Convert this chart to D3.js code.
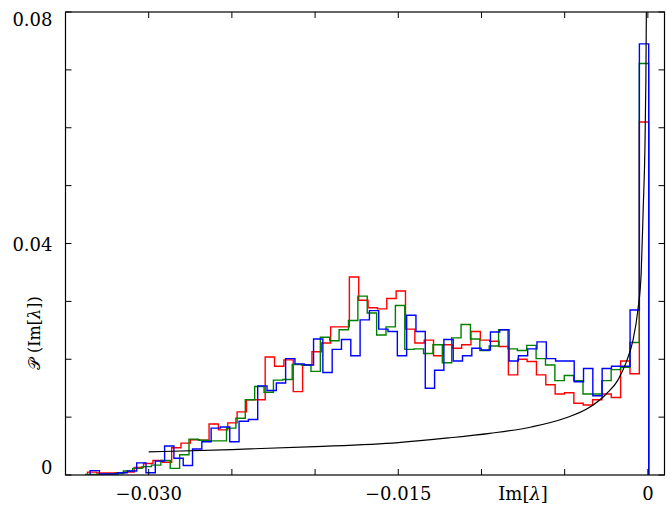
<!DOCTYPE html>
<html>
<head>
<meta charset="utf-8">
<script src="https://cdn.jsdelivr.net/npm/d3@7"></script>
<style>
  html, body { margin: 0; padding: 0; background: #fff; }
</style>
</head>
<body>
<div id="chart"></div>
<script>
// histogram ranges (data min / max of each run), 60 bins each
var nBins = 60;
var redRange = [-0.03368, 0.00005];
var greenRange = [-0.03378, 0.00005];
var blueRange = [-0.03352, 0.00005];

// probability per bin
var redP = [0.00050, 0.00035, 0.00035, 0.00040, 0.00050, 0.00130, 0.00200, 0.00250, 0.00220, 0.00470,
  0.00550, 0.00610, 0.00600, 0.00880, 0.00780, 0.00900, 0.01090, 0.01300, 0.01300, 0.02040,
  0.01880, 0.01990, 0.01440, 0.01900, 0.02130, 0.02280, 0.02560, 0.02560, 0.03420, 0.03020,
  0.02890, 0.02870, 0.03050, 0.03180, 0.02520, 0.02280, 0.02330, 0.02060, 0.02250, 0.02190,
  0.02250, 0.02480, 0.02330, 0.02310, 0.02220, 0.01730, 0.02000, 0.01960, 0.01730, 0.01560,
  0.01400, 0.01420, 0.01240, 0.01210, 0.01300, 0.01400, 0.01340, 0.01970, 0.01750, 0.06100];

var greenP = [0.00010, 0.00010, 0.00015, 0.00025, 0.00070, 0.00115, 0.00145, 0.00170, 0.00250, 0.00115,
  0.00350, 0.00620, 0.00600, 0.00590, 0.00590, 0.00810, 0.00980, 0.01300, 0.01530, 0.01430,
  0.01640, 0.01650, 0.01910, 0.01900, 0.01790, 0.02380, 0.02320, 0.02510, 0.02670, 0.03090,
  0.02800, 0.02420, 0.02560, 0.02930, 0.02170, 0.02180, 0.02100, 0.02250, 0.01940, 0.02370,
  0.02600, 0.02350, 0.02150, 0.02230, 0.02510, 0.02180, 0.02150, 0.02240, 0.02010, 0.01900,
  0.01630, 0.01720, 0.01630, 0.01400, 0.01400, 0.01630, 0.01820, 0.01860, 0.02290, 0.07110];

var blueP = [0.00075, 0.00017, 0.00017, 0.00040, 0.00070, 0.00210, 0.00040, 0.00240, 0.00500, 0.00290,
  0.00165, 0.00450, 0.00575, 0.00810, 0.00830, 0.00575, 0.00930, 0.00960, 0.01540, 0.01460,
  0.01590, 0.02010, 0.01920, 0.01900, 0.02350, 0.01770, 0.02170, 0.02340, 0.02060, 0.02680,
  0.02840, 0.02520, 0.02480, 0.02060, 0.02760, 0.02480, 0.01500, 0.01810, 0.02340, 0.01970,
  0.02060, 0.02190, 0.02160, 0.02470, 0.02510, 0.01970, 0.02060, 0.02180, 0.02300, 0.02010,
  0.01970, 0.01970, 0.01610, 0.01840, 0.01370, 0.01840, 0.01880, 0.01880, 0.02850, 0.07450];

// theory curve, points
var curveX = [-0.0300, -0.0250, -0.0200, -0.0150, -0.0120, -0.0095, -0.0070, -0.0050, -0.0035,
  -0.0025, -0.0018, -0.0013, -0.0009, -0.0006, -0.0004, -0.00028, -0.00018, -0.00012, -0.00008];
var curveY = [0.0040, 0.0044, 0.0049, 0.0056, 0.0064, 0.0072, 0.0083, 0.0098, 0.0117,
  0.0140, 0.0164, 0.0195, 0.0232, 0.0285, 0.0350, 0.0460, 0.0560, 0.0680, 0.0840];

var xTicks = [-0.030, -0.025, -0.020, -0.015, -0.010, -0.005, 0];
var xTickLabels = {"-0.03": "\u22120.030", "-0.015": "\u22120.015", "0": "0"};
var yTicks = [0, 0.01, 0.02, 0.03, 0.04, 0.05, 0.06, 0.07, 0.08];
var yTickLabels = {"0": "0", "0.04": "0.04", "0.08": "0.08"};

var margin = { top: 12, right: 7.5, bottom: 31, left: 65.5 };
var width = 672 - margin.left - margin.right;
var height = 506 - margin.top - margin.bottom;
var serif = "'DejaVu Serif', serif";

var svg = d3.select("#chart").append("svg")
  .attr("width", 672)
  .attr("height", 506)
  .attr("font-family", serif);

var g = svg.append("g")
  .attr("transform", `translate(${margin.left}, ${margin.top})`);

var x = d3.scaleLinear().domain([-0.035, 0.001]).range([0, width]);
var y = d3.scaleLinear().domain([0, 0.08]).range([height, 0]);

g.append("clipPath").attr("id", "clip")
  .append("rect").attr("width", width).attr("height", height);

// step outline of one histogram
function stepPoints(range, probs) {
  var w = (range[1] - range[0]) / nBins;
  var pts = [[range[0], 0]];
  probs.forEach(function (p, i) {
    pts.push([range[0] + i * w, p]);
    pts.push([range[0] + (i + 1) * w, p]);
  });
  pts.push([range[1], 0]);
  return pts;
}

var line = d3.line()
  .x(function (d) { return x(d[0]); })
  .y(function (d) { return y(d[1]); });

var plot = g.append("g").attr("clip-path", "url(#clip)");

[[redRange, redP, "#ff0000"], [greenRange, greenP, "#008000"], [blueRange, blueP, "#0000ff"]]
  .forEach(function (s) {
    plot.append("path")
      .attr("d", line(stepPoints(s[0], s[1])))
      .attr("fill", "none")
      .attr("stroke", s[2])
      .attr("stroke-width", 1.4);
  });

var curveLine = d3.line()
  .x(function (d) { return x(d[0]); })
  .y(function (d) { return y(d[1]); })
  .curve(d3.curveMonotoneX);

plot.append("path")
  .attr("d", curveLine(curveX.map(function (v, i) { return [v, curveY[i]]; })))
  .attr("fill", "none")
  .attr("stroke", "#000")
  .attr("stroke-width", 1.2);

// ticks pointing inward on all four sides
var tickLen = 6;
var ticks = g.append("g").attr("stroke", "#000").attr("stroke-width", 1);
xTicks.forEach(function (t) {
  ticks.append("line").attr("x1", x(t)).attr("x2", x(t)).attr("y1", height).attr("y2", height - tickLen);
  ticks.append("line").attr("x1", x(t)).attr("x2", x(t)).attr("y1", 0).attr("y2", tickLen);
});
yTicks.forEach(function (t) {
  ticks.append("line").attr("x1", 0).attr("x2", tickLen).attr("y1", y(t)).attr("y2", y(t));
  ticks.append("line").attr("x1", width).attr("x2", width - tickLen).attr("y1", y(t)).attr("y2", y(t));
});

g.append("rect")
  .attr("width", width).attr("height", height)
  .attr("fill", "none").attr("stroke", "#000").attr("stroke-width", 1.2);

// tick labels
xTicks.forEach(function (t) {
  var lab = xTickLabels[String(t)];
  if (!lab) return;
  g.append("text")
    .attr("x", x(t)).attr("y", height + 25)
    .attr("text-anchor", "middle")
    .attr("font-size", 18)
    .text(lab);
});
var yOffsets = {"0": -1, "0.04": 7, "0.08": 14};
yTicks.forEach(function (t) {
  var lab = yTickLabels[String(t)];
  if (!lab) return;
  g.append("text")
    .attr("x", -13).attr("y", y(t) + yOffsets[String(t)])
    .attr("text-anchor", "end")
    .attr("font-size", 18)
    .text(lab);
});

// axis labels
var xl = g.append("text")
  .attr("x", x(-0.0075)).attr("y", height + 25)
  .attr("text-anchor", "middle")
  .attr("font-size", 18);
xl.append("tspan").text("Im[");
xl.append("tspan").attr("font-style", "italic").text("\u03bb");
xl.append("tspan").text("]");

var yl = g.append("text")
  .attr("transform", `translate(${-26}, ${y(0.0245)}) rotate(-90)`)
  .attr("text-anchor", "middle")
  .attr("font-size", 16);
yl.append("tspan").text("\ud835\udcab");
yl.append("tspan").text(" (Im[");
yl.append("tspan").attr("font-style", "italic").text("\u03bb");
yl.append("tspan").text("])");
</script>
</body>
</html>
